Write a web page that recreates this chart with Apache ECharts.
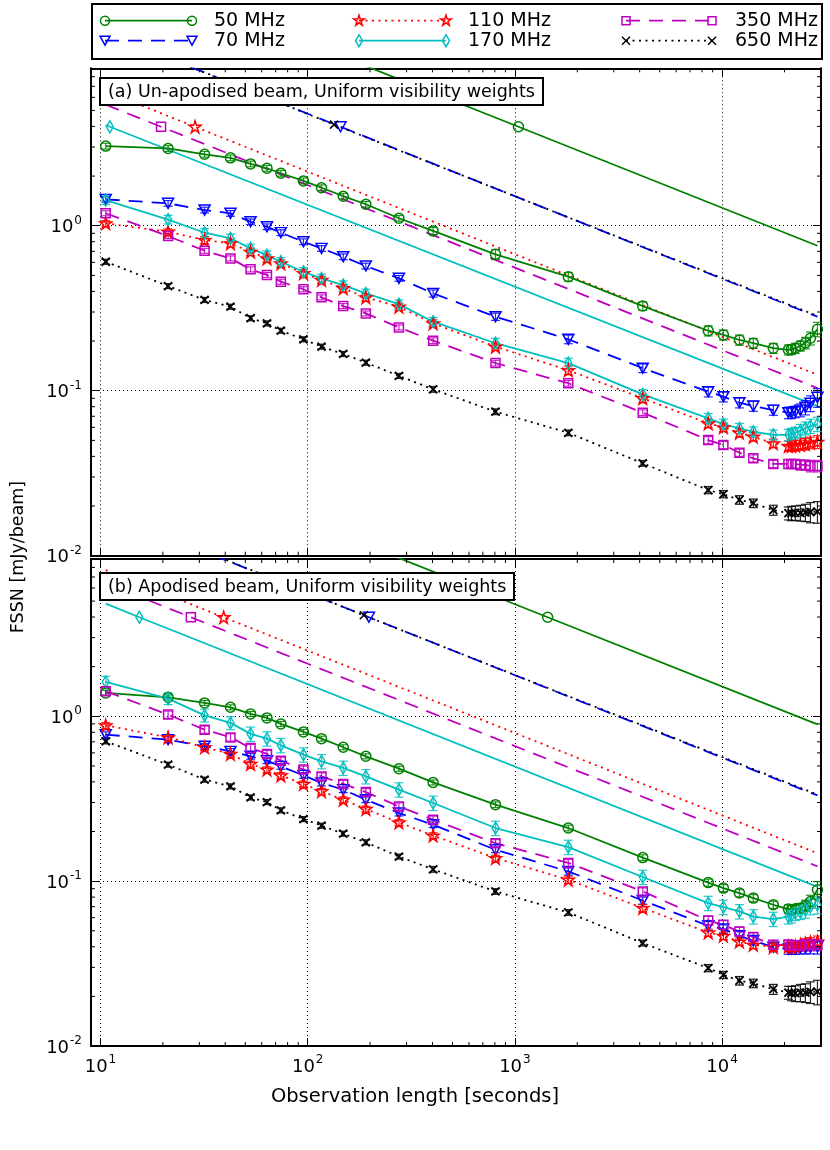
<!DOCTYPE html>
<html><head><meta charset="utf-8">
<script src="https://cdn.jsdelivr.net/npm/echarts@6/dist/echarts.min.js"></script>
<style>html,body{margin:0;padding:0;background:#fff}#c{width:830px;height:1150px}</style>
</head><body><div id="c"></div>
<script>
// ---------------- data ----------------
const obsLength = [10.6, 21.2, 31.8, 42.4, 53, 63.6, 74.2, 95.4, 116.6, 148.4, 190.8, 275.6, 403, 806, 1810, 4140,
  8570, 10140, 12120, 14140, 17660, 20880, 21600, 22560, 23860, 25230, 26680, 28840];
const freqLabels = ['50 MHz', '70 MHz', '110 MHz', '170 MHz', '350 MHz', '650 MHz'];
const panelTitles = ['(a) Un-apodised beam, Uniform visibility weights', '(b) Apodised beam, Uniform visibility weights'];

// panel (a) FSSN [mJy/beam]
const fssnA_50  = [3.04, 2.94, 2.71, 2.58, 2.37, 2.23, 2.08, 1.87, 1.70, 1.51, 1.35, 1.11, 0.93, 0.671, 0.491, 0.326, 0.231, 0.218, 0.203, 0.194, 0.181, 0.177, 0.178, 0.181, 0.187, 0.195, 0.208, 0.236];
const fssnA_70  = [1.445, 1.367, 1.245, 1.189, 1.057, 0.986, 0.908, 0.800, 0.729, 0.649, 0.570, 0.480, 0.389, 0.281, 0.205, 0.137, 0.0986, 0.092, 0.0846, 0.0807, 0.0763, 0.0736, 0.0736, 0.0746, 0.0763, 0.0793, 0.0839, 0.0912];
const fssnA_110 = [1.034, 0.92, 0.819, 0.782, 0.695, 0.634, 0.591, 0.515, 0.469, 0.418, 0.368, 0.323, 0.256, 0.185, 0.133, 0.090, 0.0634, 0.060, 0.0556, 0.0526, 0.048, 0.0462, 0.0462, 0.0465, 0.0469, 0.0475, 0.0484, 0.049];
const fssnA_170 = [1.43, 1.09, 0.907, 0.839, 0.729, 0.664, 0.605, 0.526, 0.480, 0.437, 0.389, 0.335, 0.262, 0.194, 0.147, 0.095, 0.068, 0.0628, 0.0592, 0.0564, 0.054, 0.054, 0.0548, 0.0556, 0.0573, 0.0592, 0.0611, 0.0628];
const fssnA_350 = [1.19, 0.866, 0.705, 0.634, 0.544, 0.503, 0.458, 0.412, 0.368, 0.326, 0.294, 0.242, 0.201, 0.147, 0.111, 0.0736, 0.0502, 0.0469, 0.0421, 0.0389, 0.036, 0.036, 0.036, 0.036, 0.0355, 0.0355, 0.035, 0.035];
const fssnA_650 = [0.605, 0.431, 0.355, 0.323, 0.275, 0.256, 0.231, 0.205, 0.185, 0.167, 0.148, 0.123, 0.102, 0.0746, 0.0556, 0.0363, 0.025, 0.0236, 0.0218, 0.0208, 0.0189, 0.0181, 0.0181, 0.0182, 0.0182, 0.0183, 0.0184, 0.0185];
// panel (b)
const fssnB_50  = [1.387, 1.304, 1.206, 1.134, 1.034, 0.978, 0.899, 0.804, 0.732, 0.649, 0.572, 0.481, 0.397, 0.291, 0.21, 0.139, 0.098, 0.0908, 0.0847, 0.0789, 0.0719, 0.0677, 0.067, 0.068, 0.0685, 0.071, 0.0753, 0.0887];
const fssnB_70  = [0.774, 0.722, 0.658, 0.613, 0.572, 0.538, 0.497, 0.438, 0.394, 0.359, 0.312, 0.259, 0.22, 0.155, 0.1146, 0.0763, 0.0536, 0.0512, 0.0466, 0.0436, 0.0398, 0.0387, 0.0387, 0.0387, 0.0393, 0.0393, 0.0398, 0.0401];
const fssnB_110 = [0.881, 0.745, 0.649, 0.591, 0.514, 0.475, 0.438, 0.389, 0.351, 0.312, 0.274, 0.227, 0.189, 0.138, 0.102, 0.0687, 0.0488, 0.0466, 0.043, 0.0411, 0.0398, 0.0402, 0.0398, 0.0402, 0.0411, 0.0418, 0.0425, 0.043];
const fssnB_170 = [1.618, 1.28, 1.014, 0.912, 0.782, 0.732, 0.667, 0.585, 0.533, 0.486, 0.432, 0.359, 0.298, 0.21, 0.161, 0.106, 0.0736, 0.0696, 0.0655, 0.061, 0.0589, 0.061, 0.062, 0.064, 0.065, 0.067, 0.0702, 0.0719];
const fssnB_350 = [1.418, 1.024, 0.83, 0.745, 0.643, 0.591, 0.538, 0.475, 0.432, 0.389, 0.347, 0.284, 0.236, 0.170, 0.129, 0.0866, 0.0577, 0.0543, 0.0495, 0.0458, 0.0411, 0.0411, 0.0408, 0.0408, 0.0405, 0.0411, 0.0411, 0.0411];
const fssnB_650 = [0.705, 0.509, 0.413, 0.376, 0.322, 0.302, 0.269, 0.238, 0.217, 0.194, 0.172, 0.141, 0.118, 0.0866, 0.0646, 0.0421, 0.0297, 0.027, 0.0249, 0.024, 0.0221, 0.0211, 0.0209, 0.0209, 0.0211, 0.0211, 0.0213, 0.0214];

// fractional 1-sigma errors
const errA_50  = [0.04,0.04,0.04,0.04,0.04,0.04,0.04,0.04,0.04,0.04,0.04,0.04,0.05,0.07,0.06,0.06, 0.07,0.07,0.07,0.07,0.07,0.07,0.07,0.07,0.07,0.08,0.09,0.10];
const errA_70  = [0.04,0.04,0.04,0.04,0.04,0.04,0.04,0.04,0.04,0.04,0.04,0.04,0.05,0.05,0.06,0.06, 0.07,0.07,0.07,0.07,0.07,0.08,0.08,0.08,0.09,0.10,0.11,0.13];
const errA_110 = [0.04,0.04,0.05,0.05,0.05,0.05,0.05,0.05,0.05,0.05,0.05,0.05,0.05,0.05,0.06,0.06, 0.06,0.06,0.06,0.06,0.06,0.07,0.07,0.07,0.07,0.08,0.08,0.09];
const errA_170 = [0.06,0.06,0.06,0.06,0.06,0.06,0.06,0.06,0.06,0.06,0.06,0.06,0.06,0.07,0.07,0.07, 0.07,0.07,0.07,0.07,0.07,0.08,0.08,0.08,0.09,0.09,0.10,0.10];
const errA_350 = [0.035,0.035,0.035,0.035,0.035,0.035,0.035,0.035,0.035,0.035,0.035,0.035,0.04,0.04,0.04,0.04, 0.05,0.05,0.05,0.05,0.05,0.06,0.06,0.06,0.07,0.07,0.08,0.08];
const errA_650 = [0.035,0.035,0.035,0.035,0.035,0.035,0.035,0.035,0.035,0.035,0.035,0.035,0.04,0.04,0.04,0.04, 0.05,0.05,0.06,0.06,0.07,0.09,0.10,0.10,0.11,0.12,0.14,0.15];
const errB_50  = [0.035,0.035,0.035,0.035,0.035,0.035,0.035,0.035,0.035,0.035,0.035,0.035,0.035,0.04,0.04,0.04, 0.05,0.05,0.05,0.05,0.05,0.06,0.06,0.06,0.07,0.08,0.09,0.12];
const errB_70  = [0.04,0.04,0.04,0.04,0.04,0.04,0.04,0.04,0.04,0.04,0.04,0.04,0.04,0.04,0.05,0.05, 0.06,0.06,0.06,0.06,0.06,0.07,0.07,0.07,0.08,0.08,0.09,0.10];
const errB_110 = [0.04,0.04,0.04,0.04,0.04,0.04,0.04,0.04,0.04,0.04,0.04,0.04,0.04,0.04,0.05,0.05, 0.05,0.05,0.05,0.05,0.05,0.06,0.06,0.06,0.06,0.07,0.07,0.08];
const errB_170 = [0.08,0.08,0.09,0.09,0.10,0.10,0.10,0.10,0.10,0.10,0.10,0.10,0.10,0.10,0.10,0.10, 0.10,0.10,0.10,0.10,0.10,0.10,0.10,0.10,0.10,0.11,0.11,0.12];
const errB_350 = [0.05,0.05,0.05,0.05,0.05,0.05,0.05,0.05,0.05,0.05,0.05,0.05,0.05,0.05,0.05,0.05, 0.06,0.06,0.06,0.06,0.06,0.07,0.07,0.07,0.07,0.08,0.08,0.08];
const errB_650 = [0.035,0.035,0.035,0.035,0.035,0.035,0.035,0.035,0.035,0.035,0.035,0.035,0.04,0.04,0.04,0.04, 0.05,0.05,0.06,0.06,0.07,0.09,0.10,0.11,0.12,0.13,0.15,0.17];

// theoretical noise lines: [start, marked point, end]
const theoryA_50  = [[10.6, 39.4], [1040, 3.98], [28840, 0.756]];
const theoryA_70  = [[10.6, 14.7], [144, 3.98], [28840, 0.281]];
const theoryA_110 = [[10.6, 6.54], [28.6, 3.98], [28840, 0.125]];
const theoryA_170 = [[10.6, 4.07], [11.1, 3.98], [28840, 0.0807]];
const theoryA_350 = [[10.6, 5.41], [19.6, 3.98], [28840, 0.1037]];
const theoryA_650 = [[10.6, 14.8], [134, 4.1], [28840, 0.284]];
const theoryB_50  = [[10.6, 46.6], [1439, 3.99], [28840, 0.893]];
const theoryB_70  = [[10.6, 17.26], [197.4, 3.99], [28840, 0.331]];
const theoryB_110 = [[10.6, 7.70], [39.3, 3.99], [28840, 0.1477]];
const theoryB_170 = [[10.6, 4.82], [15.4, 3.99], [28840, 0.0924]];
const theoryB_350 = [[10.6, 6.42], [27.3, 3.99], [28840, 0.123]];
const theoryB_650 = [[10.6, 17.5], [186.6, 4.1], [28840, 0.335]];

const xMinorTicks = [20,30,40,50,60,70,80,90,200,300,400,500,600,700,800,900,2000,3000,4000,5000,6000,7000,8000,9000,20000];
const yMinorTicks = [0.02,0.03,0.04,0.05,0.06,0.07,0.08,0.09,0.2,0.3,0.4,0.5,0.6,0.7,0.8,0.9,2,3,4,5,6,7,8];

// ---------------- styles ----------------
const FONT = 'DejaVu Sans';
const STAR = 'path://M10,0L12.23,6.93L19.51,6.91L13.61,11.17L15.88,18.09L10,13.8L4.12,18.09L6.39,11.17L0.49,6.91L7.77,6.93Z';
const styles = [
  {color: '#008000', symbol: 'circle', size: 10, dash: 'solid', kind: 'circle'},
  {color: '#0000ff', symbol: 'path://M0,0L10,0L5,9Z', size: [11, 10], dash: [14, 9], kind: 'tri'},
  {color: '#ff0000', symbol: STAR, size: 12, dash: [2, 4.5], kind: 'star'},
  {color: '#00bfbf', symbol: 'path://M3,0L6,5L3,10L0,5Z', size: [7, 12], dash: 'solid', kind: 'diamond'},
  {color: '#bf00bf', symbol: 'rect', size: 9, dash: [14, 9], kind: 'square'},
  {color: '#000000', symbol: 'path://M0,0L10,10M10,0L0,10', size: 8, dash: [2, 4.5], kind: 'x'}
];
const panels = [
  {vals: [fssnA_50, fssnA_70, fssnA_110, fssnA_170, fssnA_350, fssnA_650],
   errs: [errA_50, errA_70, errA_110, errA_170, errA_350, errA_650],
   theory: [theoryA_50, theoryA_70, theoryA_110, theoryA_170, theoryA_350, theoryA_650]},
  {vals: [fssnB_50, fssnB_70, fssnB_110, fssnB_170, fssnB_350, fssnB_650],
   errs: [errB_50, errB_70, errB_110, errB_170, errB_350, errB_650],
   theory: [theoryB_50, theoryB_70, theoryB_110, theoryB_170, theoryB_350, theoryB_650]}
];

const chart = echarts.init(document.getElementById('c'), null, {renderer: 'canvas'});

function powLabel(v) {
  const e = Math.log10(v); const r = Math.round(e);
  if (Math.abs(e - r) > 1e-6) return '';
  return '{b|10}{s|' + r + '}';
}
const labelRich = {
  b: {fontFamily: FONT, fontSize: 18, color: '#000', lineHeight: 22, verticalAlign: 'bottom'},
  s: {fontFamily: FONT, fontSize: 12, color: '#000', lineHeight: 22, verticalAlign: 'top', padding: [0, 0, 0, 1]}
};

const grids = [
  {left: 91, top: 68.3, width: 730, height: 487.4},
  {left: 91, top: 559, width: 730, height: 487}
];
const xAxes = [], yAxes = [];
grids.forEach((g, gi) => {
  const common = {gridIndex: gi, type: 'log', logBase: 10, min: 9, max: 30000,
    axisLine: {show: true, onZero: false, lineStyle: {color: '#000', width: 2}},
    axisTick: {show: true, inside: true, length: 8, lineStyle: {color: '#000', width: 1}}};
  xAxes.push(Object.assign({}, common, {position: 'bottom',
    axisLabel: {show: gi === 1, formatter: powLabel, rich: labelRich, margin: 8, interval: 0},
    splitLine: {show: true, lineStyle: {color: '#000', width: 1, type: [1, 3]}}}));
  xAxes.push(Object.assign({}, common, {position: 'top', axisLabel: {show: false}, splitLine: {show: false}}));
  const ycommon = {gridIndex: gi, type: 'log', logBase: 10, min: 0.01, max: 9,
    axisLine: {show: true, onZero: false, lineStyle: {color: '#000', width: 2}},
    axisTick: {show: true, inside: true, length: 8, lineStyle: {color: '#000', width: 1}}};
  yAxes.push(Object.assign({}, ycommon, {position: 'left',
    axisLabel: {show: true, formatter: powLabel, rich: labelRich, margin: 9, interval: 0},
    splitLine: {show: true, lineStyle: {color: '#000', width: 1, type: [1, 3]}}}));
  yAxes.push(Object.assign({}, ycommon, {position: 'right', axisLabel: {show: false}, splitLine: {show: false}}));
});

const series = [];
panels.forEach((p, pi) => {
  const xi = pi * 2, yi = pi * 2;
  // theory lines
  p.theory.forEach((t, fi) => {
    const st = styles[fi];
    series.push({type: 'line', xAxisIndex: xi, yAxisIndex: yi, silent: true, animation: false, z: 2,
      data: t.map((pt, k) => ({value: pt, symbol: k === 1 ? st.symbol : 'none'})),
      symbolSize: st.size, showSymbol: true, showAllSymbol: true,
      itemStyle: {color: 'rgba(0,0,0,0)', borderColor: st.color, borderWidth: 1.5},
      lineStyle: {color: st.color, width: 1.8, type: st.dash}});
  });
  // measured
  p.vals.forEach((vals, fi) => {
    const st = styles[fi];
    const errs = p.errs[fi];
    series.push({type: 'custom', xAxisIndex: xi, yAxisIndex: yi, silent: true, animation: false, z: 3,
      data: obsLength.map((x, k) => [x, vals[k], errs[k]]),
      renderItem: (params, api) => {
        const x = api.value(0), y = api.value(1), e = api.value(2);
        const hi = api.coord([x, y * (1 + e)]), lo = api.coord([x, y * (1 - e)]);
        const s = {stroke: st.color, lineWidth: 1.2, opacity: 0.85};
        return {type: 'group', children: [
          {type: 'line', shape: {x1: hi[0], y1: hi[1], x2: lo[0], y2: lo[1]}, style: s},
          {type: 'line', shape: {x1: hi[0] - 4.5, y1: hi[1], x2: hi[0] + 4.5, y2: hi[1]}, style: s},
          {type: 'line', shape: {x1: lo[0] - 4.5, y1: lo[1], x2: lo[0] + 4.5, y2: lo[1]}, style: s}
        ]};
      }});
    series.push({type: 'line', xAxisIndex: xi, yAxisIndex: yi, silent: true, animation: false, z: 4,
      data: obsLength.map((x, k) => [x, vals[k]]),
      symbol: st.symbol, symbolSize: st.size, showSymbol: true, showAllSymbol: true,
      itemStyle: {color: 'rgba(0,0,0,0)', borderColor: st.color, borderWidth: fi === 5 ? 1.8 : 1.5},
      lineStyle: {color: st.color, width: 1.8, type: st.dash}});
  });
  // minor ticks
  series.push({type: 'custom', xAxisIndex: xi, yAxisIndex: yi, silent: true, animation: false, z: 5, clip: false,
    data: xMinorTicks.map(v => [v, 1]),
    renderItem: (params, api) => {
      const cs = params.coordSys; const px = api.coord([api.value(0), 1])[0];
      const s = {stroke: '#000', lineWidth: 1};
      return {type: 'group', children: [
        {type: 'line', shape: {x1: px, y1: cs.y + cs.height, x2: px, y2: cs.y + cs.height - 4}, style: s},
        {type: 'line', shape: {x1: px, y1: cs.y, x2: px, y2: cs.y + 4}, style: s}]};
    }});
  series.push({type: 'custom', xAxisIndex: xi, yAxisIndex: yi, silent: true, animation: false, z: 5, clip: false,
    data: yMinorTicks.map(v => [100, v]),
    renderItem: (params, api) => {
      const cs = params.coordSys; const py = api.coord([100, api.value(1)])[1];
      const s = {stroke: '#000', lineWidth: 1};
      return {type: 'group', children: [
        {type: 'line', shape: {x1: cs.x, y1: py, x2: cs.x + 4, y2: py}, style: s},
        {type: 'line', shape: {x1: cs.x + cs.width, y1: py, x2: cs.x + cs.width - 4, y2: py}, style: s}]};
    }});
});

// legend drawn as graphic (two markers per entry)
function legendSymbol(kind, cx, cy, color) {
  const s = {fill: 'none', stroke: color, lineWidth: 1.5};
  const z = 12;
  if (kind === 'circle') return [{type: 'circle', z, shape: {cx, cy, r: 4.5}, style: s}];
  if (kind === 'tri') return [{type: 'polygon', z, shape: {points: [[cx - 5, cy - 4.5], [cx + 5, cy - 4.5], [cx, cy + 4.5]]}, style: s}];
  if (kind === 'square') return [{type: 'rect', z, shape: {x: cx - 4, y: cy - 4, width: 8, height: 8}, style: s}];
  if (kind === 'diamond') return [{type: 'polygon', z, shape: {points: [[cx, cy - 6], [cx + 3.5, cy], [cx, cy + 6], [cx - 3.5, cy]]}, style: s}];
  if (kind === 'star') {
    const pts = [[10,0],[12.23,6.93],[19.51,6.91],[13.61,11.17],[15.88,18.09],[10,13.8],[4.12,18.09],[6.39,11.17],[0.49,6.91],[7.77,6.93]]
      .map(q => [cx + (q[0] - 10) * 0.55, cy + (q[1] - 10) * 0.55]);
    return [{type: 'polygon', z, shape: {points: pts}, style: s}];
  }
  return [
    {type: 'line', z, shape: {x1: cx - 4, y1: cy - 4, x2: cx + 4, y2: cy + 4}, style: s},
    {type: 'line', z, shape: {x1: cx + 4, y1: cy - 4, x2: cx - 4, y2: cy + 4}, style: s}];
}
const graphics = [];
graphics.push({type: 'rect', shape: {x: 92, y: 4, width: 730, height: 55}, style: {fill: '#fff', stroke: '#000', lineWidth: 2}, z: 10});
const legCols = [[105, 192, 214], [359, 446, 468], [626, 712, 735]];
const legRows = [20.7, 40.7];
freqLabels.forEach((lab, i) => {
  const col = legCols[Math.floor(i / 2)], cy = legRows[i % 2], st = styles[i];
  graphics.push({type: 'line', shape: {x1: col[0], y1: cy, x2: col[1], y2: cy}, z: 11,
    style: {stroke: st.color, lineWidth: 1.8, lineDash: st.dash === 'solid' ? null : st.dash}});
  legendSymbol(st.kind, col[0], cy, st.color).forEach(el => graphics.push(el));
  legendSymbol(st.kind, col[1], cy, st.color).forEach(el => graphics.push(el));
  graphics.push({type: 'text', x: col[2], y: cy, z: 12,
    style: {text: lab, fontFamily: FONT, fontSize: 19, fill: '#000', textAlign: 'left', textVerticalAlign: 'middle'}});
});
graphics.push({type: 'text', x: 415, y: 1097, style: {text: 'Observation length [seconds]', fontFamily: FONT, fontSize: 19.5, fill: '#000', textAlign: 'center', textVerticalAlign: 'middle'}});
graphics.push({type: 'text', x: 18, y: 557, rotation: Math.PI / 2, style: {text: 'FSSN [mJy/beam]', fontFamily: FONT, fontSize: 17.5, fill: '#000', textAlign: 'center', textVerticalAlign: 'middle'}});

const titles = panelTitles.map((t, i) => ({
  text: t, left: 100, top: i === 0 ? 78 : 573, padding: [5, 8, 4, 8],
  borderColor: '#000', borderWidth: 2, backgroundColor: '#fff',
  textStyle: {fontFamily: FONT, fontSize: 17.5, fontWeight: 'normal', color: '#000'}
}));

chart.setOption({
  animation: false,
  backgroundColor: '#fff',
  title: titles,
  grid: grids,
  xAxis: xAxes,
  yAxis: yAxes,
  series: series,
  graphic: graphics
});
</script></body></html>
